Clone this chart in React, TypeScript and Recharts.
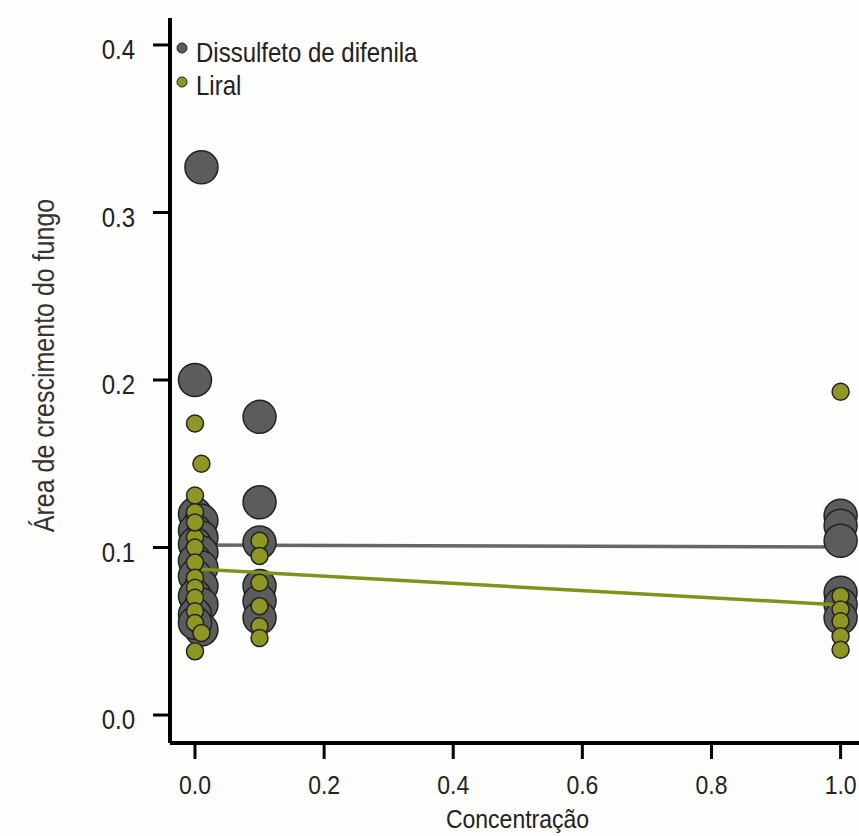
import { ScatterChart, Scatter, XAxis, YAxis } from "recharts"

// concentrations and fungal growth areas
const dissulfetoConc = [0.01, 0, 0, 0.01, 0, 0.01, 0, 0.01, 0, 0.01, 0, 0.01, 0, 0.01, 0, 0.01, 0, 0.1, 0.1, 0.1, 0.1, 0.1, 0.1, 1, 1, 1, 1, 1, 1]
const dissulfetoArea = [0.327, 0.2, 0.12, 0.116, 0.11, 0.106, 0.102, 0.097, 0.092, 0.088, 0.083, 0.077, 0.071, 0.066, 0.06, 0.051, 0.055, 0.178, 0.127, 0.103, 0.077, 0.068, 0.058, 0.119, 0.113, 0.104, 0.073, 0.066, 0.058]

const liralConc = [0, 0.01, 0, 0, 0, 0, 0, 0, 0, 0, 0, 0, 0, 0.01, 0, 0.1, 0.1, 0.1, 0.1, 0.1, 0.1, 1, 1, 1, 1, 1, 1]
const liralArea = [0.174, 0.15, 0.131, 0.121, 0.106, 0.1, 0.091, 0.082, 0.076, 0.07, 0.062, 0.055, 0.115, 0.049, 0.038, 0.104, 0.095, 0.079, 0.065, 0.053, 0.046, 0.193, 0.071, 0.063, 0.056, 0.047, 0.039]

// fitted lines
const fitConc = [0, 1]
const dissulfetoFit = [0.1015, 0.1003]
const liralFit = [0.0872, 0.0657]

const xTicks = [0, 0.2, 0.4, 0.6, 0.8, 1.0]
const yTicks = [0, 0.1, 0.2, 0.3, 0.4]

const GRAY = "#5c5c5c"
const OLIVE = "#8e9724"
const FONT = "'Liberation Sans', Arial, sans-serif"
const STRETCH = 1.16 // text in the original is a bit taller than Arial

const toPoints = (xs: number[], ys: number[]) => xs.map((x, i) => ({ x, y: ys[i] }))

const dissulfetoData = toPoints(dissulfetoConc, dissulfetoArea)
const liralData = toPoints(liralConc, liralArea)
const dissulfetoLine = toPoints(fitConc, dissulfetoFit)
const liralLine = toPoints(fitConc, liralFit)

const bigDot = (p: any) => <circle cx={p.cx} cy={p.cy} r={16.5} fill={GRAY} stroke="#222" strokeWidth={1.5} />
const smallDot = (p: any) => <circle cx={p.cx} cy={p.cy} r={8.5} fill={OLIVE} stroke="#222" strokeWidth={1.5} />
const noDot = () => <g />

const XTick = ({ x, y, payload }: any) => (
  <g transform={`translate(${x},${y})`}>
    <text transform={`scale(1,${STRETCH})`} textAnchor="middle" dy="0.72em" fontFamily={FONT} fontSize={23} fill="#222">
      {payload.value.toFixed(1)}
    </text>
  </g>
)

const YTick = ({ x, y, payload }: any) => (
  <g transform={`translate(${x},${y + 4})`}>
    <text transform={`scale(1,${STRETCH})`} textAnchor="end" dy="0.36em" fontFamily={FONT} fontSize={24} fill="#222">
      {payload.value.toFixed(1)}
    </text>
  </g>
)

const XTitle = ({ viewBox }: any) => (
  <g transform={`translate(${viewBox.x + viewBox.width / 2 + 3},${viewBox.y + 76})`}>
    <text transform={`scale(1,${STRETCH})`} dy="0.35em" textAnchor="middle" fontFamily={FONT} fontSize={23} fill="#222">
      Concentração
    </text>
  </g>
)

const YTitle = ({ viewBox }: any) => {
  const cy = viewBox.y + viewBox.height / 2 - 15
  return (
    <g transform={`translate(44,${cy}) rotate(-90)`}>
      <text transform={`scale(1,${STRETCH})`} dy="0.35em" textAnchor="middle" fontFamily={FONT} fontSize={25} fill="#333">
        Área de crescimento do fungo
      </text>
    </g>
  )
}

export default function App() {
  return (
    <div style={{ position: "absolute", left: 0, top: 0, width: 859, height: 836, background: "#fdfdfb", fontFamily: FONT }}>
      <ScatterChart width={859} height={836} margin={{ top: 18, right: 0, bottom: 0, left: 0 }}>
        <XAxis
          type="number"
          dataKey="x"
          domain={[-0.0387, 1.0285]}
          allowDataOverflow
          ticks={xTicks}
          height={93}
          tickSize={16}
          tickMargin={16}
          axisLine={{ stroke: "#000", strokeWidth: 4 }}
          tickLine={{ stroke: "#000", strokeWidth: 3 }}
          tick={<XTick />}
          label={<XTitle />}
        />
        <YAxis
          type="number"
          dataKey="y"
          domain={[-0.0167, 0.4161]}
          allowDataOverflow
          ticks={yTicks}
          width={170}
          tickSize={17}
          tickMargin={18}
          axisLine={{ stroke: "#000", strokeWidth: 4 }}
          tickLine={{ stroke: "#000", strokeWidth: 3 }}
          tick={<YTick />}
          label={<YTitle />}
        />
        <Scatter data={dissulfetoLine} line={{ stroke: "#666", strokeWidth: 3.5 }} shape={noDot} isAnimationActive={false} />
        <Scatter data={dissulfetoData} shape={bigDot} isAnimationActive={false} />
        <Scatter data={liralLine} line={{ stroke: "#84901c", strokeWidth: 3.5 }} shape={noDot} isAnimationActive={false} />
        <Scatter data={liralData} shape={smallDot} isAnimationActive={false} />
      </ScatterChart>
      <svg width={859} height={120} style={{ position: "absolute", left: 0, top: 0, pointerEvents: "none" }}>
        <circle cx={182} cy={48} r={5} fill={GRAY} stroke="#222" strokeWidth={1} />
        <g transform="translate(196,52)">
          <text transform={`scale(1,${STRETCH})`} dy="0.35em" fontFamily={FONT} fontSize={24} fill="#222">Dissulfeto de difenila</text>
        </g>
        <circle cx={182} cy={82} r={5} fill={OLIVE} stroke="#222" strokeWidth={1} />
        <g transform="translate(196,85)">
          <text transform={`scale(1,${STRETCH})`} dy="0.35em" fontFamily={FONT} fontSize={24} fill="#222">Liral</text>
        </g>
      </svg>
    </div>
  )
}
